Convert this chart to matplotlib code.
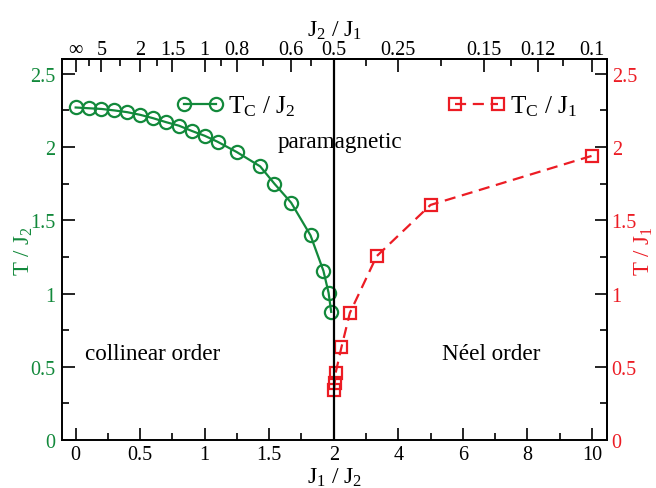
import numpy as np
import matplotlib
matplotlib.use('Agg')
from matplotlib import pyplot as plt
from matplotlib.lines import Line2D

plt.rcParams['font.family'] = ['Liberation Serif', 'DejaVu Serif']
plt.rcParams['mathtext.fontset'] = 'custom'
plt.rcParams['mathtext.rm'] = 'Liberation Serif'
plt.rcParams['mathtext.it'] = 'Liberation Serif:italic'

GREEN = '#12893b'
RED = '#ec1c24'

# collinear phase: T_C / J_2 versus J_1 / J_2
j1j2_col = [0, 0.1, 0.2, 0.3, 0.4, 0.5, 0.6, 0.7, 0.8, 0.9, 1.0, 1.1, 1.25,
            1.43, 1.54, 1.67, 1.82, 1.92, 1.96, 1.98]
tc_j2 = [2.27, 2.265, 2.26, 2.25, 2.238, 2.22, 2.197, 2.17, 2.146, 2.11, 2.077,
         2.036, 1.965, 1.868, 1.75, 1.62, 1.397, 1.155, 1.005, 0.875]

# Neel phase: T_C / J_1 versus J_1 / J_2
j1j2_neel = [2.01, 2.03, 2.06, 2.24, 2.5, 3.33, 5.0, 10.0]
tc_j1 = [0.34, 0.39, 0.46, 0.635, 0.868, 1.255, 1.605, 1.94]

# axis ticks (J_1 / J_2 on the bottom, J_2 / J_1 on the top)
bottom_major = [0, 0.5, 1, 1.5, 2, 4, 6, 8, 10]
bottom_labels = ['0', '0.5', '1', '1.5', '2', '4', '6', '8', '10']
bottom_minor = [0.25, 0.75, 1.25, 1.75, 3, 5, 7, 9]
top_major = [0, 0.2, 0.5, 0.75, 1.0, 1.25, 1.667, 2.0, 4.0, 6.667, 8.333, 10.0]
top_labels = ['∞', '5', '2', '1.5', '1', '0.8', '0.6', '0.5', '0.25', '0.15', '0.12', '0.1']
top_minor = [0.1, 0.34, 0.63, 1.13, 1.45, 1.82, 3.0, 5.34, 7.5, 9.1]
y_ticks = [0, 0.5, 1, 1.5, 2, 2.5]
y_labels = ['0', '0.5', '1', '1.5', '2', '2.5']
y_minor = [0.25, 0.75, 1.25, 1.75, 2.25]


def squeeze(x):
    # the axis is stretched 4x on [0,2] compared to [2,10]
    x = np.asarray(x, dtype=float)
    return np.where(x <= 2, x, 2 + (x - 2) / 4.0)


fig = plt.figure(figsize=(6.56, 4.89), dpi=100)
ax = fig.add_axes([0.0945, 0.098, 0.8305, 0.779])

ax.plot(squeeze(j1j2_col), tc_j2, '-o', color=GREEN, lw=1.6, ms=9.5,
        mfc='none', mew=1.6)
ax.plot(squeeze(j1j2_neel), tc_j1, '--s', color=RED, lw=1.6, ms=8.5,
        mfc='none', mew=1.6, dashes=(5, 3))
ax.axvline(2, color='black', lw=1.6)

ax.set_xlim(-0.106, 4.116)
ax.set_ylim(0, 2.6)

ax.set_xticks(squeeze(bottom_major))
ax.set_xticklabels(bottom_labels)
ax.set_xticks(squeeze(bottom_minor), minor=True)
ax.set_yticks(y_ticks)
ax.set_yticklabels(y_labels)
ax.set_yticks(y_minor, minor=True)

ax.tick_params(which='both', direction='in', labelsize=14.5, width=1.2)
ax.tick_params(which='major', length=9)
ax.tick_params(which='minor', length=5)
ax.tick_params(axis='y', labelcolor=GREEN, pad=5)
ax.set_xlabel('J$_1$ / J$_2$', fontsize=17, labelpad=1)
ax.set_ylabel('T / J$_2$', fontsize=16.5, color=GREEN, labelpad=-4)

top = ax.secondary_xaxis('top')
top.set_xticks(squeeze(top_major))
top.set_xticklabels(top_labels)
top.set_xticks(squeeze(top_minor), minor=True)
top.tick_params(which='both', direction='in', labelsize=14.5, width=1.2, pad=0)
top.tick_params(which='major', length=9)
top.tick_params(which='minor', length=5)
top.set_xlabel('J$_2$ / J$_1$', fontsize=17, labelpad=3)

right = ax.secondary_yaxis('right')
right.set_yticks(y_ticks)
right.set_yticklabels(y_labels)
right.set_yticks(y_minor, minor=True)
right.tick_params(which='both', direction='in', labelsize=14.5, width=1.2,
                  labelcolor=RED)
right.tick_params(which='major', length=9)
right.tick_params(which='minor', length=5)
right.set_ylabel('T / J$_1$', fontsize=16.5, color=RED, labelpad=-3)

for a in (ax, top, right):
    for s in a.spines.values():
        s.set_linewidth(1.4)

h_green = Line2D([], [], color=GREEN, marker='o', lw=1.6, ms=9.5, mfc='none', mew=1.6)
h_red = Line2D([], [], color=RED, marker='s', ls='--', lw=1.6, ms=8.5,
               mfc='none', mew=1.6, dashes=(5, 3))
leg1 = ax.legend([h_green], ['T$_\\mathrm{C}$ / J$_2$'], loc='center left',
                 bbox_to_anchor=(0.210, 0.877), frameon=False, numpoints=2,
                 handlelength=1.88, handletextpad=0.18, borderpad=0,
                 borderaxespad=0, fontsize=18)
ax.add_artist(leg1)
ax.legend([h_red], ['T$_\\mathrm{C}$ / J$_1$'], loc='center left',
          bbox_to_anchor=(0.7073, 0.877), frameon=False, numpoints=2,
          handlelength=2.32, handletextpad=0.18, borderpad=0,
          borderaxespad=0, fontsize=18)

ax.text(2.05, 2.04, 'paramagnetic', ha='center', va='center', fontsize=16.7)
ax.text(0.6, 0.59, 'collinear order', ha='center', va='center', fontsize=16.7)
ax.text(3.22, 0.59, 'Néel order', ha='center', va='center', fontsize=16.7)

fig.savefig('out.png', dpi=100)
